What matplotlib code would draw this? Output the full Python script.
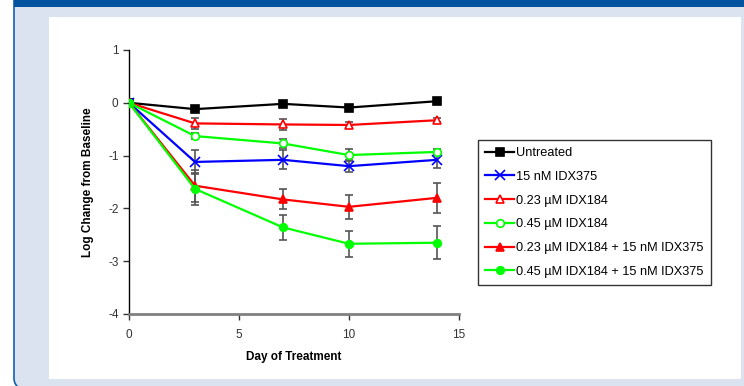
import matplotlib
matplotlib.use("Agg")
import matplotlib.pyplot as plt
from matplotlib.patches import Rectangle, FancyBboxPatch

plt.rcParams['font.family'] = ['Liberation Sans', 'DejaVu Sans']

# data
days = [0, 3, 7, 10, 14]
series_labels = ['Untreated', '15 nM IDX375', '0.23 µM IDX184', '0.45 µM IDX184',
                 '0.23 µM IDX184 + 15 nM IDX375', '0.45 µM IDX184 + 15 nM IDX375']
untreated = [0, -0.12, -0.02, -0.09, 0.03]
idx375 = [0, -1.12, -1.08, -1.20, -1.08]
idx184_lo = [0, -0.39, -0.41, -0.42, -0.33]
idx184_hi = [0, -0.63, -0.77, -0.99, -0.93]
combo_lo = [0, -1.57, -1.83, -1.97, -1.80]
combo_hi = [0, -1.63, -2.36, -2.67, -2.65]
err_untreated = [0, 0.03, 0.03, 0.03, 0.03]
err_idx375 = [0, 0.23, 0.18, 0.12, 0.15]
err_idx184_lo = [0, 0.10, 0.10, 0.05, 0.04]
err_idx184_hi = [0, 0.05, 0.08, 0.11, 0.06]
err_combo_lo = [0, 0.30, 0.19, 0.23, 0.29]
err_combo_hi = [0, 0.30, 0.23, 0.25, 0.31]

values = [untreated, idx375, idx184_lo, idx184_hi, combo_lo, combo_hi]
errors = [err_untreated, err_idx375, err_idx184_lo, err_idx184_hi, err_combo_lo, err_combo_hi]
colors = ['black', '#0000FF', '#FF0000', '#00FF00', '#FF0000', '#00FF00']
markers = ['s', 'x', '^', 'o', '^', 'o']
fills = [True, True, False, False, True, True]

fig = plt.figure(figsize=(7.44, 3.86), dpi=100)
fig.patch.set_facecolor('white')

W, H = 744.0, 386.0
def fx(px):
    return px / W
def fy(py):
    return 1 - py / H

# page decoration: light panel, blue header, white plot area
fig.patches.append(FancyBboxPatch((fx(14), fy(392)), fx(760), (440) / H,
                                  boxstyle='round,pad=0,rounding_size=0.035',
                                  transform=fig.transFigure, facecolor='#DCE3F0',
                                  edgecolor='#1060B0', linewidth=1.2, zorder=-3))
fig.patches.append(Rectangle((fx(14), fy(7)), fx(740), 20 / H, transform=fig.transFigure,
                             facecolor='#00539F', edgecolor='none', zorder=-2))
fig.patches.append(Rectangle((fx(49), fy(379)), fx(741 - 49), (379 - 17) / H,
                             transform=fig.transFigure, facecolor='white',
                             edgecolor='none', zorder=-1))

ax = fig.add_axes([fx(129), fy(314), fx(459 - 129), (314 - 50) / H])
ax.set_facecolor('none')

for vals, errs in zip(values, errors):
    ax.errorbar(days, vals, yerr=errs, fmt='none', ecolor='#555555', elinewidth=1.2,
                capsize=3, capthick=1.2, zorder=2)
for vals, c, m, f, lab in zip(values, colors, markers, fills, series_labels):
    ms = {'s': 5.5, 'o': 5.5, 'x': 6.5, '^': 6}[m]
    ax.plot(days, vals, color=c, linewidth=1.6, marker=m, markersize=ms,
            markerfacecolor=c if f else 'white', markeredgecolor=c,
            markeredgewidth=1.2, label=lab, zorder=3)

ax.set_xlim(0, 15)
ax.set_ylim(-4, 1)
ax.set_xticks([0, 5, 10, 15])
ax.set_yticks([-4, -3, -2, -1, 0, 1])
ax.set_yticklabels(['-4', '-3', '-2', '-1', '0', '1'])
ax.spines['top'].set_visible(False)
ax.spines['right'].set_visible(False)
ax.spines['left'].set_color('black')
ax.spines['left'].set_linewidth(1.0)
ax.spines['bottom'].set_color('#808080')
ax.spines['bottom'].set_linewidth(2.0)
ax.tick_params(axis='both', direction='out', length=4, width=1, labelsize=8.5, colors='#333333')
ax.tick_params(axis='x', pad=7)
ax.set_xlabel('Day of Treatment', fontsize=8.5, fontweight='bold', labelpad=7)
ax.set_ylabel('Log Change from Baseline', fontsize=8.5, fontweight='bold', labelpad=10)

leg = ax.legend(loc='upper left', bbox_to_anchor=(fx(478), fy(140)),
                bbox_transform=fig.transFigure, fontsize=9.2, frameon=True,
                fancybox=False, edgecolor='black', handlelength=2.3,
                handletextpad=0.15, labelspacing=0.92, borderpad=0.55,
                borderaxespad=0)
leg.get_frame().set_linewidth(1.0)

fig.savefig('out.png', dpi=100, facecolor=fig.get_facecolor())
